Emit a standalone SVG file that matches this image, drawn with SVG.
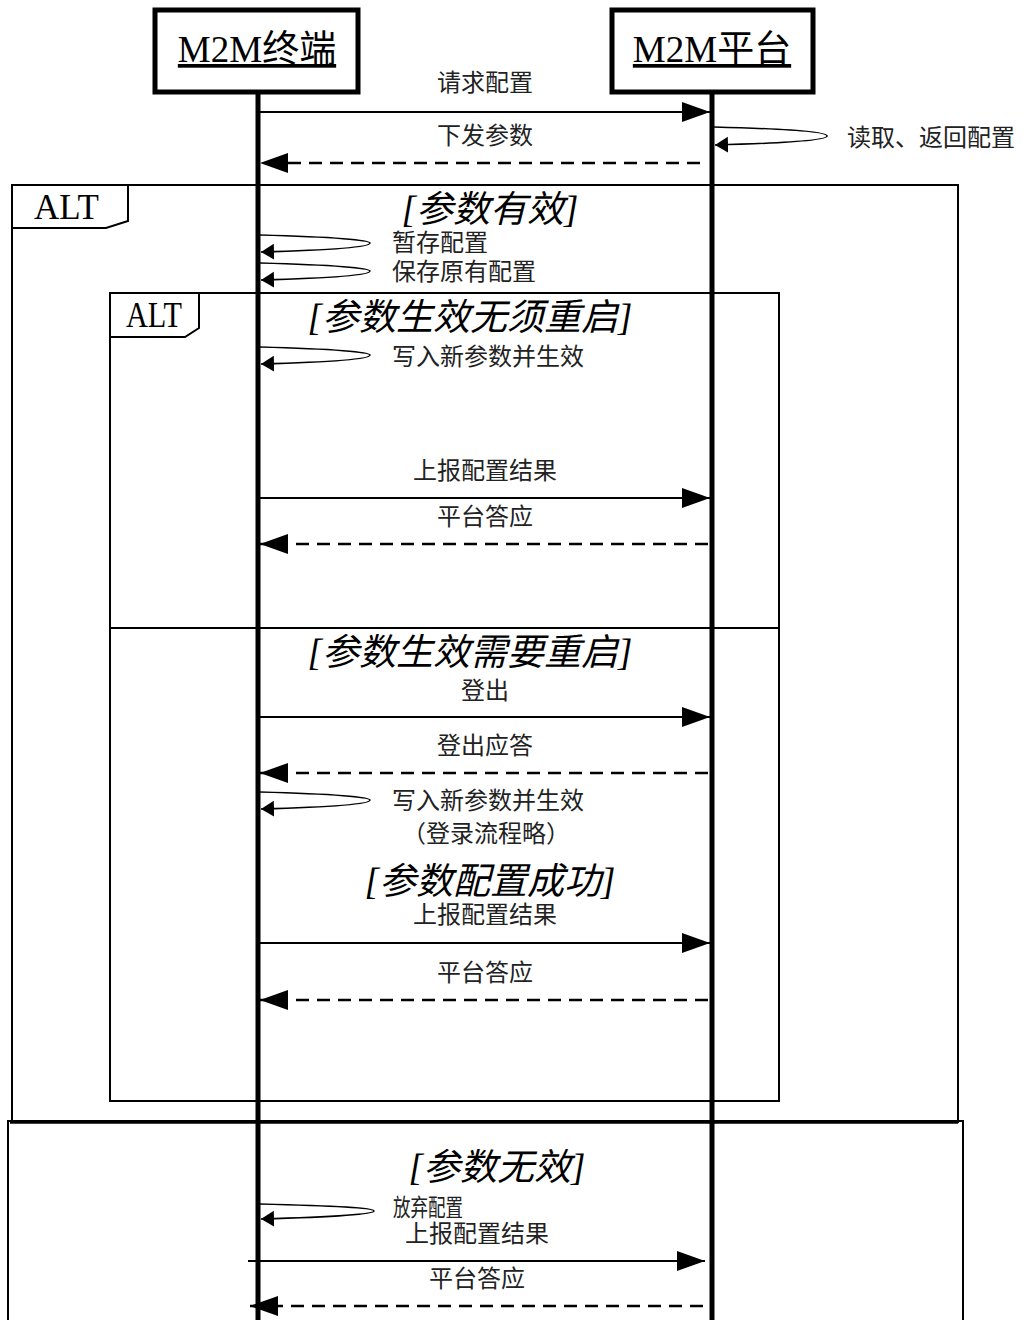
<svg xmlns="http://www.w3.org/2000/svg" width="1027" height="1320" viewBox="0 0 1027 1320">
<style>
.box{fill:#fff;stroke:#000;stroke-width:5}
.life{stroke:#000;stroke-width:5}
.frame{fill:none;stroke:#000;stroke-width:2}
.hdr{font-family:"Liberation Serif","Noto Sans CJK SC",serif;font-size:37px;text-decoration:underline;text-anchor:middle}
.lbl{font-family:"Liberation Serif","Noto Sans CJK SC",serif;font-size:24px;fill:#222}
.mid{text-anchor:middle}
.guard{font-family:"Liberation Serif","Noto Sans CJK SC",serif;font-size:37px;font-style:italic;text-anchor:middle}
.alt{font-family:"Liberation Serif",serif;font-size:35px}
.msg{stroke:#000;stroke-width:2.2;fill:none;marker-end:url(#ah)}
.dash{stroke:#000;stroke-width:2.5;fill:none;stroke-dasharray:13 8;marker-end:url(#ah)}
.self{stroke:#000;stroke-width:1.6;fill:none;marker-end:url(#sh)}
</style>
<defs>
<marker id="ah" markerUnits="userSpaceOnUse" markerWidth="30" markerHeight="22" refX="28" refY="10" orient="auto"><path d="M0,0 L28,10 L0,20 z" fill="#000"/></marker>
<marker id="sh" markerUnits="userSpaceOnUse" markerWidth="16" markerHeight="18" refX="13" refY="8" orient="auto"><path d="M0,0 L13,8 L0,16 z" fill="#000"/></marker>
</defs>
<rect width="1027" height="1320" fill="#fff"/>

<g id="frames">
<rect class="frame" x="12" y="185" width="946" height="937"/>
<line x1="10" y1="1122" x2="958" y2="1122" stroke="#000" stroke-width="3.5"/>
<path class="frame" d="M8,1330 L8,1121 L963,1121 L963,1330"/>
<path class="frame" d="M12,228 L106,228 L128,221 L128,185"/>
<text class="alt" x="34" y="219">ALT</text>
<rect class="frame" x="110" y="293" width="669" height="808"/>
<path class="frame" d="M110,337 L185,337 L199,328 L199,293"/>
<text class="alt" x="126" y="327" font-size="32" textLength="56" lengthAdjust="spacingAndGlyphs">ALT</text>
<line x1="110" y1="628" x2="779" y2="628" stroke="#000" stroke-width="2"/>
</g>

<g id="guards">
<text class="guard" x="490" y="222">[参数有效]</text>
<text class="guard" x="470" y="330">[参数生效无须重启]</text>
<text class="guard" x="470" y="665">[参数生效需要重启]</text>
<text class="guard" x="490" y="894">[参数配置成功]</text>
<text class="guard" x="497" y="1180">[参数无效]</text>
</g>

<g id="lifelines">
<line class="life" x1="258" y1="92" x2="258" y2="1320"/>
<line class="life" x1="712" y1="92" x2="712" y2="1320"/>
</g>

<g id="node-terminal">
<rect class="box" x="155" y="10" width="203" height="82"/>
<text class="hdr" x="257" y="62">M2M终端</text>
</g>
<g id="node-platform">
<rect class="box" x="612" y="10" width="201" height="82"/>
<text class="hdr" x="712" y="62">M2M平台</text>
</g>

<g id="connectors">
<line class="msg" x1="260" y1="112" x2="710" y2="112"/>
<path class="self" d="M714,127 C790,129 827,132 827,136 C827,140 790,143 715,145"/>
<line class="dash" x1="700" y1="163" x2="260" y2="163"/>
<path class="self" d="M260,235 C335,237 370,240 370,243 C370,247 335,250 261,252"/>
<path class="self" d="M260,263 C335,265 370,268 370,271 C370,275 335,278 261,280"/>
<path class="self" d="M260,347 C335,349 370,352 370,355 C370,359 335,362 261,364"/>
<line class="msg" x1="260" y1="498" x2="710" y2="498"/>
<line class="dash" x1="708" y1="544" x2="260" y2="544"/>
<line class="msg" x1="260" y1="717" x2="710" y2="717"/>
<line class="dash" x1="708" y1="773" x2="260" y2="773"/>
<path class="self" d="M260,792 C335,794 370,797 370,800 C370,804 335,807 261,809"/>
<line class="msg" x1="260" y1="943" x2="710" y2="943"/>
<line class="dash" x1="708" y1="1000" x2="260" y2="1000"/>
<path class="self" d="M260,1204 C338,1206 374,1208 374,1211 C374,1214 338,1217 261,1219"/>
<line class="msg" x1="248" y1="1261" x2="705" y2="1261"/>
<line class="dash" x1="703" y1="1306" x2="250" y2="1306"/>
</g>

<g id="labels">
<text class="lbl mid" x="485" y="91">请求配置</text>
<text class="lbl" x="847" y="146">读取、返回配置</text>
<text class="lbl mid" x="485" y="144">下发参数</text>
<text class="lbl" x="392" y="251">暂存配置</text>
<text class="lbl" x="392" y="280">保存原有配置</text>
<text class="lbl" x="392" y="365">写入新参数并生效</text>
<text class="lbl mid" x="485" y="479">上报配置结果</text>
<text class="lbl mid" x="485" y="525">平台答应</text>
<text class="lbl mid" x="485" y="699">登出</text>
<text class="lbl mid" x="485" y="754">登出应答</text>
<text class="lbl" x="392" y="809">写入新参数并生效</text>
<text class="lbl mid" x="486" y="842">（登录流程略）</text>
<text class="lbl mid" x="485" y="923">上报配置结果</text>
<text class="lbl mid" x="485" y="981">平台答应</text>
<text class="lbl" x="393" y="1216" font-size="21" textLength="70" lengthAdjust="spacingAndGlyphs">放弃配置</text>
<text class="lbl mid" x="477" y="1242">上报配置结果</text>
<text class="lbl mid" x="477" y="1287">平台答应</text>
</g>
</svg>
